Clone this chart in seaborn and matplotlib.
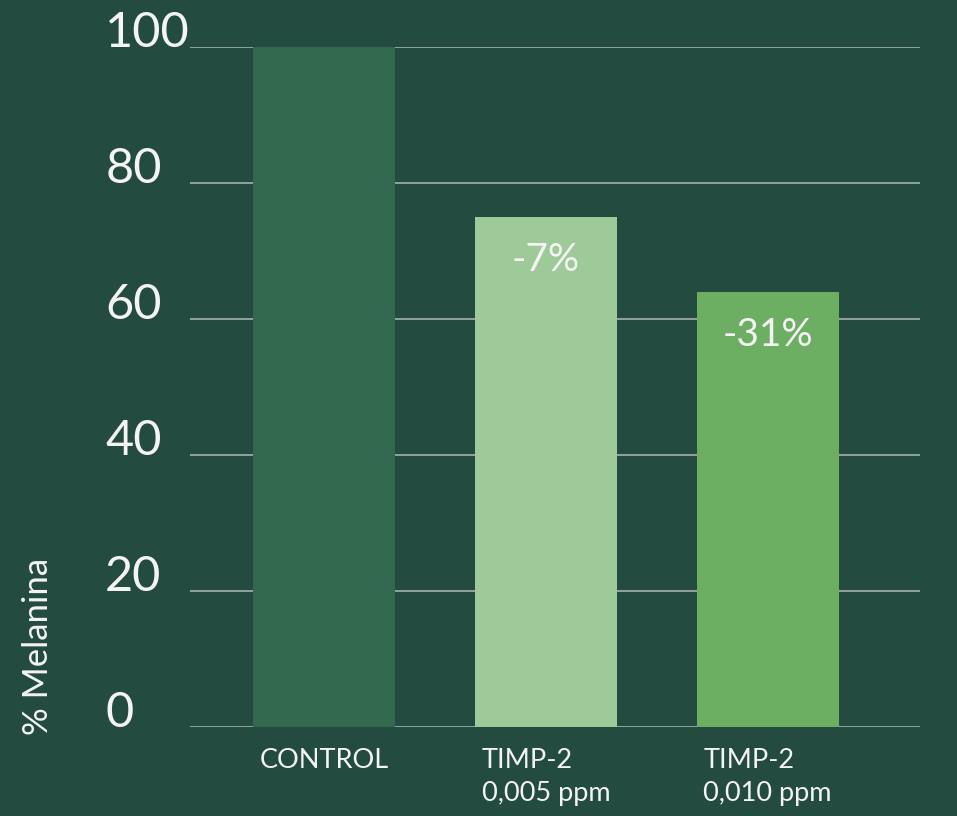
import matplotlib
matplotlib.use("Agg")
import matplotlib.pyplot as plt
import seaborn as sns
import pandas as pd

categories = ["CONTROL", "TIMP-2\n0,005 ppm", "TIMP-2\n0,010 ppm"]
values = [100, 75, 64]
bar_labels = ["", "-7%", "-31%"]
yticks = [0, 20, 40, 60, 80, 100]
ylabel = "% Melanina"

bg = "#234b40"
colors = ["#336a4f", "#9ec999", "#6caf62"]
grid_color = "#9aaca4"
text_color = "#f4f4f4"

sns.set_theme(style="white")
plt.rcParams["font.family"] = ["Lato", "DejaVu Sans"]

df = pd.DataFrame({"cat": categories, "val": values})

fig = plt.figure(figsize=(9.57, 8.16), dpi=100, facecolor=bg)
ax = fig.add_axes([0.1985, 0.109, 0.7625, 0.8335])
ax.set_facecolor(bg)

sns.barplot(data=df, x="cat", y="val", hue="cat", palette=colors,
            order=categories, hue_order=categories, legend=False,
            width=0.64, ax=ax, zorder=3, saturation=1)

for p in ax.patches:
    p.set_edgecolor("none")

ax.set_ylim(0, 100)
ax.set_xlim(-0.604, 2.685)
ax.set_yticks(yticks)
ax.set_yticklabels([str(t) for t in yticks])
ax.yaxis.grid(True, color=grid_color, linewidth=1.3, zorder=1)
ax.set_axisbelow(True)
for s in ax.spines.values():
    s.set_visible(False)

ax.tick_params(axis="y", length=0, pad=61, labelsize=35, labelcolor=text_color)
ax.tick_params(axis="x", length=0, pad=15, labelsize=19.5, labelcolor=text_color)
for lbl in ax.get_yticklabels():
    lbl.set_va("baseline")
    lbl.set_ha("left")
for lbl in ax.get_xticklabels():
    lbl.set_multialignment("left")
    lbl.set_linespacing(1.4)
ax.set_xlabel("")
ax.set_ylabel("")

for i, (v, t) in enumerate(zip(values, bar_labels)):
    if t:
        ax.annotate(t, xy=(i, v), xytext=(0, -31), textcoords="offset points",
                    ha="center", va="center", fontsize=28, color=text_color)

fig.text(38 / 957, 1 - 735 / 816, ylabel, rotation=90, ha="center", va="bottom",
         fontsize=25, color=text_color)

fig.savefig("out.png", dpi=100, facecolor=bg)
